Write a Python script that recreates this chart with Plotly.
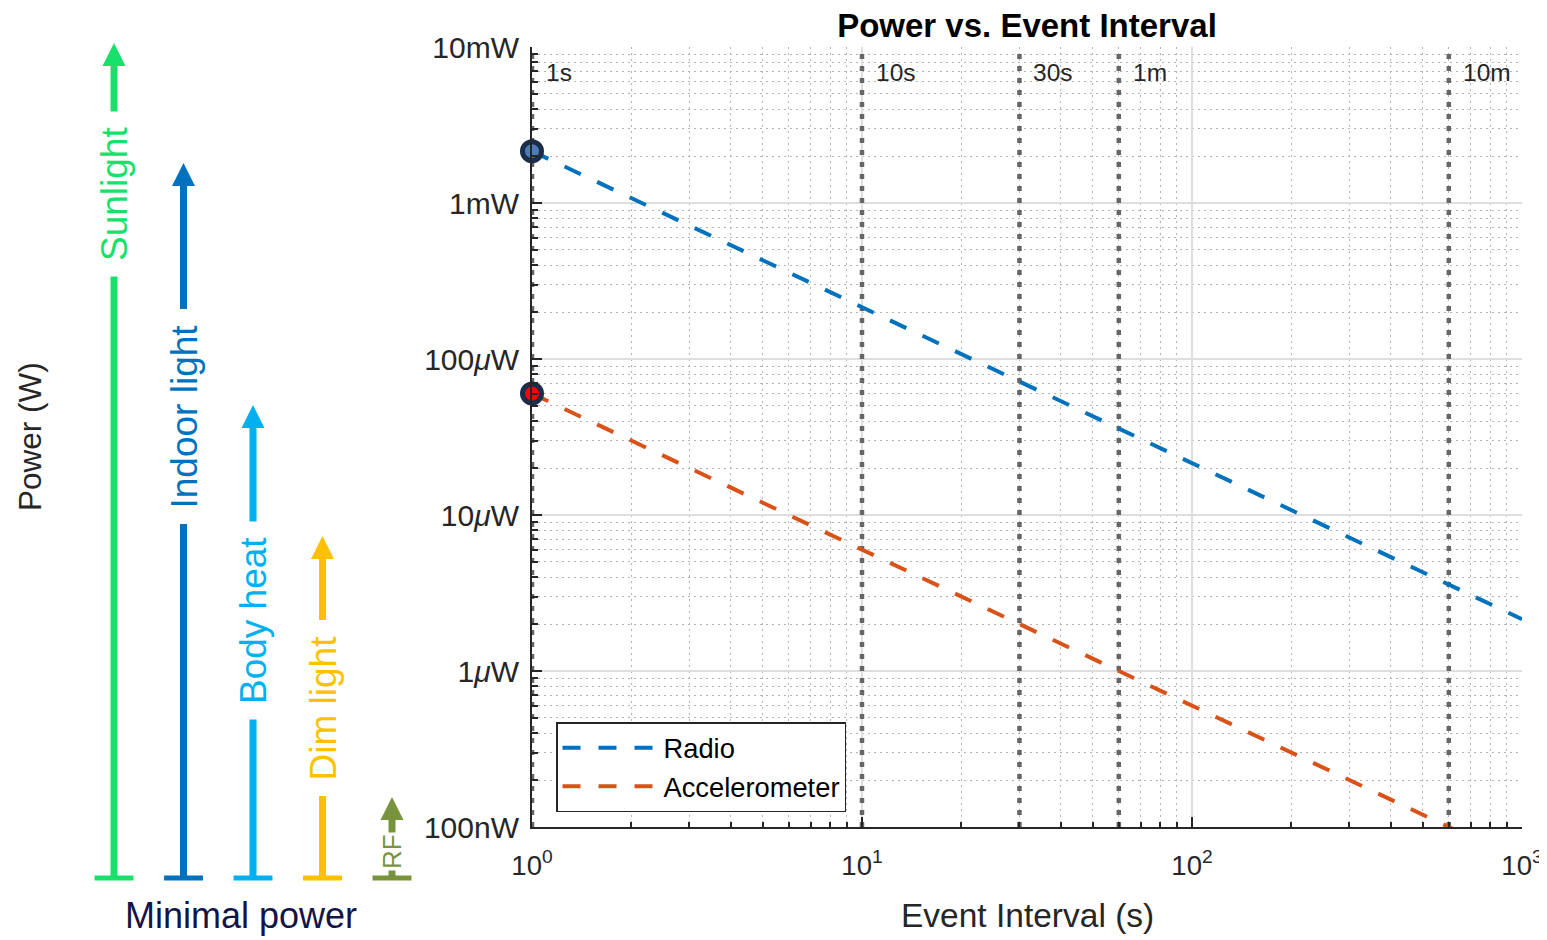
import plotly.graph_objects as go
import math

# ---------------- data ----------------
intervals = [1, 10, 100, 1000]
radio_power = [2.15e-3, 2.15e-4, 2.15e-5, 2.15e-6]
accel_power = [6.0e-5, 6.0e-6, 6.0e-7, 6.0e-8]

event_times = [1, 10, 30, 60, 600]
event_labels = ["1s", "10s", "30s", "1m", "10m"]

y_tickvals = [1e-7, 1e-6, 1e-5, 1e-4, 1e-3, 1e-2]
y_ticktext = ["100nW", "1<i>μ</i>W", "10<i>μ</i>W", "100<i>μ</i>W", "1mW", "10mW"]
x_tickvals = [1, 10, 100, 1000]
x_ticktext = ["10<sup>0</sup>", "10<sup>1</sup>", "10<sup>2</sup>", "10<sup>3</sup>"]

sources = ["Sunlight", "Indoor light", "Body heat", "Dim light", "RF"]
source_colors = ["#17e16b", "#0072bd", "#00b0f0", "#ffc000", "#77933c"]
source_level = [835, 715, 473, 342, 81]      # arrow tip height above the "minimal power" base
label_pos = [684, 461, 257, 170, 26]         # label centre height above base
label_size = [37, 37, 37, 37, 26]

FONT = "Liberation Sans, Arial, Helvetica, sans-serif"
TXT = "#262626"

# page layout: the html body adds an 8px margin, so the figure is placed at (8, 8)
OFF = 8
W, H = 1547 - OFF, 940 - OFF


def px(x):
    return (x - OFF) / W


def py(y):
    return 1 - (y - OFF) / H


x_minor = [d * 10 ** k for k in range(0, 3) for d in range(2, 10)]
y_minor = [d * 10.0 ** k for k in range(-7, -2) for d in range(2, 10)]

fig = go.Figure()

# event interval marker lines
for t in event_times:
    fig.add_trace(go.Scatter(x=[t, t], y=[y_tickvals[0], y_tickvals[-1]], mode="lines",
                             line=dict(color="#666666", width=4.5, dash="5px,7px"),
                             showlegend=False, hoverinfo="skip", xaxis="x", yaxis="y"))

fig.add_trace(go.Scatter(x=intervals, y=radio_power, mode="lines", name="Radio",
                         line=dict(color="#0072bd", width=4, dash="18px,18px")))
fig.add_trace(go.Scatter(x=intervals, y=accel_power, mode="lines", name="Accelerometer",
                         line=dict(color="#d95319", width=4, dash="18px,18px")))

fig.add_trace(go.Scatter(x=[intervals[0]], y=[radio_power[0]], mode="markers", showlegend=False,
                         cliponaxis=False,
                         marker=dict(size=19, color="#4a7ebb", line=dict(color="#1c2d4a", width=5))))
fig.add_trace(go.Scatter(x=[intervals[0]], y=[accel_power[0]], mode="markers", showlegend=False,
                         cliponaxis=False,
                         marker=dict(size=19, color="#ff0000", line=dict(color="#1c2d4a", width=5))))

# left schematic: harvesting sources
head_h = 23
head_hw = 0.165
for i, (name, col, lev) in enumerate(zip(sources, source_colors, source_level)):
    fig.add_trace(go.Scatter(x=[i, i], y=[0, lev - head_h], mode="lines",
                             line=dict(color=col, width=7), showlegend=False, hoverinfo="skip",
                             xaxis="x2", yaxis="y2"))
    fig.add_trace(go.Scatter(x=[i - 0.28, i + 0.28], y=[0, 0], mode="lines",
                             line=dict(color=col, width=5), showlegend=False, hoverinfo="skip",
                             xaxis="x2", yaxis="y2"))
    fig.add_trace(go.Scatter(x=[i - head_hw, i + head_hw, i, i - head_hw],
                             y=[lev - head_h, lev - head_h, lev, lev - head_h],
                             mode="lines", fill="toself", fillcolor=col, line=dict(width=0, color=col),
                             showlegend=False, hoverinfo="skip", xaxis="x2", yaxis="y2"))

annotations = []
for i, (name, col, pos, fs) in enumerate(zip(sources, source_colors, label_pos, label_size)):
    annotations.append(dict(x=i, y=pos, xref="x2", yref="y2", text=name, textangle=-90,
                            showarrow=False, font=dict(family=FONT, size=fs, color=col),
                            bgcolor="white", borderpad=15 if fs > 30 else 1,
                            xanchor="center", yanchor="middle"))

for t, lab in zip(event_times, event_labels):
    annotations.append(dict(x=math.log10(t), y=py(72), xref="x", yref="paper", text=lab,
                            showarrow=False, xanchor="left", yanchor="middle", xshift=12,
                            font=dict(family=FONT, size=24.5, color=TXT)))

annotations.append(dict(x=px(30), y=py(437), xref="paper", yref="paper", text="Power (W)",
                        textangle=-90, showarrow=False, xanchor="center", yanchor="middle",
                        font=dict(family=FONT, size=31.5, color=TXT)))
annotations.append(dict(x=px(241), y=py(915), xref="paper", yref="paper", text="Minimal power",
                        showarrow=False, xanchor="center", yanchor="middle",
                        font=dict(family=FONT, size=36, color="#141446")))
annotations.append(dict(x=px(1027), y=py(915), xref="paper", yref="paper",
                        text="Event Interval (s)", showarrow=False, xanchor="center", yanchor="middle",
                        font=dict(family=FONT, size=33.5, color=TXT)))

fig.update_layout(
    template="none",
    width=W, height=H,
    margin=dict(l=0, r=0, t=0, b=0, pad=0, autoexpand=False),
    paper_bgcolor="white", plot_bgcolor="white",
    font=dict(family=FONT, color=TXT),
    title=dict(text="<b>Power vs. Event Interval</b>", x=px(1027), xanchor="center",
               y=py(25), yanchor="middle", font=dict(family=FONT, size=33, color="black")),
    xaxis=dict(type="log", domain=[px(532), px(1522)], range=[0, 3], automargin=False,
               tickmode="array", tickvals=x_tickvals, ticktext=x_ticktext,
               ticks="inside", ticklen=10, tickwidth=1.5, tickcolor=TXT,
               showline=True, linecolor=TXT, linewidth=2,
               showgrid=True, gridcolor="#dedede", gridwidth=1.5, zeroline=False,
               tickfont=dict(family=FONT, size=27.5, color=TXT), ticklabelstandoff=13,
               minor=dict(tickmode="array", tickvals=x_minor, ticks="inside", ticklen=5,
                          tickcolor=TXT, tickwidth=1.5, showgrid=True, gridcolor="#b4b4b4",
                          griddash="1.5px,4.5px", gridwidth=1)),
    yaxis=dict(type="log", domain=[py(827), py(47)], range=[-7, -2],
               automargin=False,
               tickmode="array", tickvals=y_tickvals, ticktext=y_ticktext,
               ticks="inside", ticklen=10, tickwidth=1.5, tickcolor=TXT,
               showline=True, linecolor=TXT, linewidth=2,
               showgrid=True, gridcolor="#dedede", gridwidth=1.5, zeroline=False,
               tickfont=dict(family=FONT, size=30, color=TXT), ticklabelstandoff=5,
               minor=dict(tickmode="array", tickvals=y_minor, ticks="inside", ticklen=6,
                          tickcolor=TXT, tickwidth=1.5, showgrid=True, gridcolor="#b4b4b4",
                          griddash="1.5px,4.5px", gridwidth=1)),
    xaxis2=dict(domain=[0, px(449)], range=[-(114 - OFF) / 69.5, (449 - 114) / 69.5],
                visible=False, fixedrange=True, anchor="y2"),
    yaxis2=dict(domain=[0, 1], range=[-(940 - 878), 878 - OFF], visible=False, fixedrange=True,
                anchor="x2"),
    legend=dict(x=px(556), y=py(722), xanchor="left", yanchor="top",
                bgcolor="white", bordercolor=TXT, borderwidth=1.5,
                font=dict(family=FONT, size=27.3, color="black"), itemwidth=96,
                tracegroupgap=0),
    annotations=annotations,
    showlegend=True,
)

fig.write_html("out.html")
